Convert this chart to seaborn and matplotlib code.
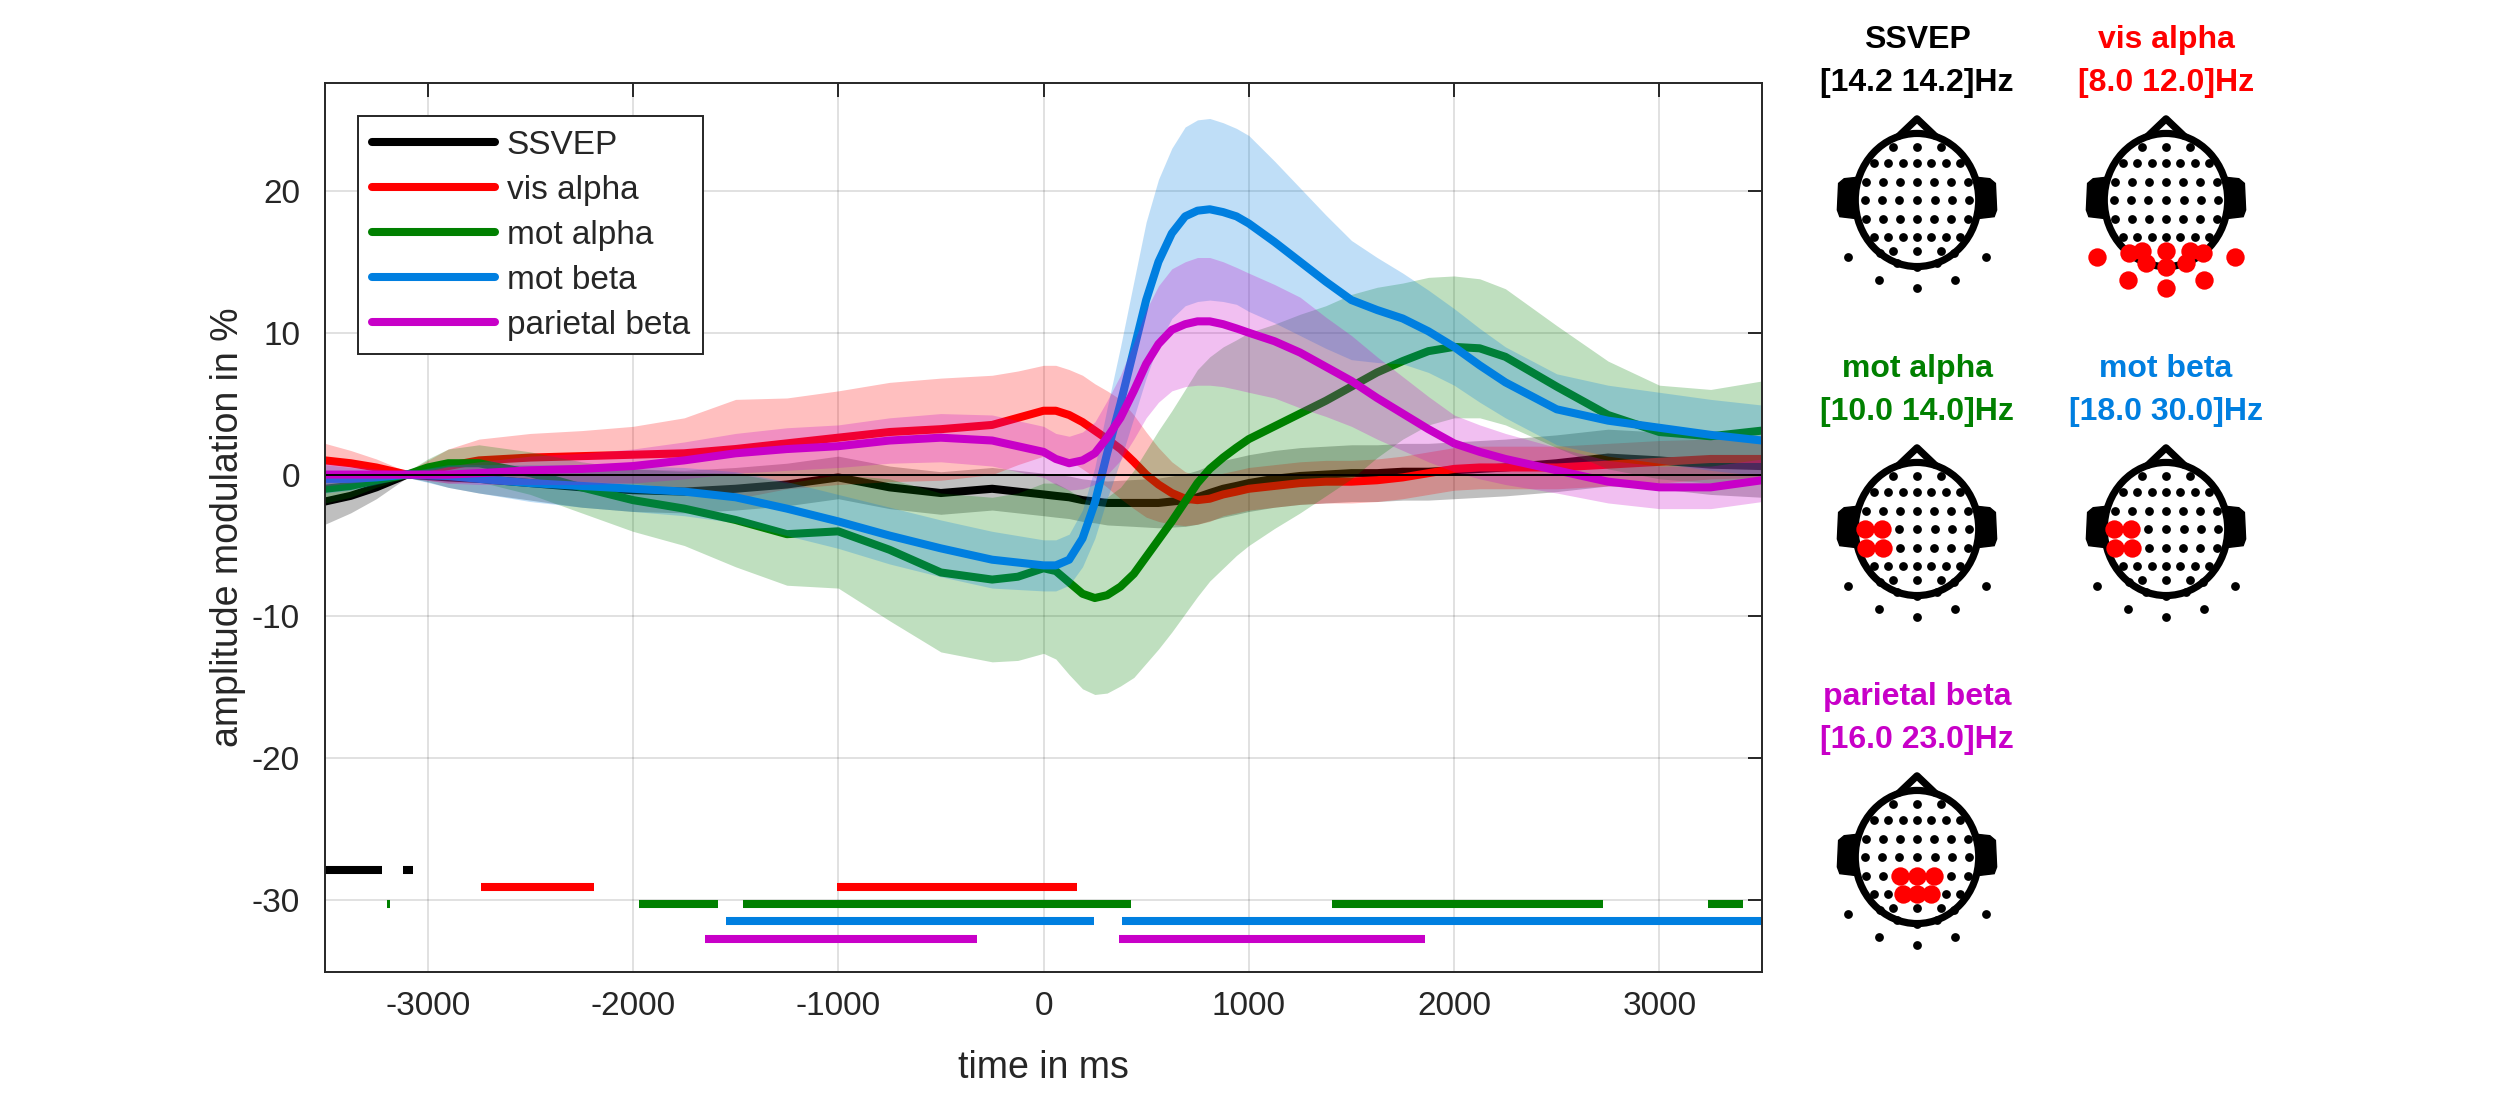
import numpy as np
import pandas as pd
import matplotlib
matplotlib.use("Agg")
import matplotlib.pyplot as plt
from matplotlib.patches import Circle, Polygon
import seaborn as sns

# ---- time course data (ms, % modulation) ----
time_ms = [-3500, -3375, -3250, -3100, -3000, -2900, -2750, -2500, -2250, -2000,
           -1750, -1500, -1250, -1000, -750, -500, -250, -125, 0, 60,
           125, 190, 250, 310, 375, 440, 500, 560, 625, 690,
           750, 810, 875, 940, 1000, 1125, 1250, 1375, 1500, 1625,
           1750, 1875, 2000, 2125, 2250, 2500, 2750, 3000, 3250, 3500]

ssvep_mean = [-1.9, -1.5, -0.9, 0.0, -0.1, -0.2, -0.3, -0.6, -0.9, -1.1,
              -1.2, -1.0, -0.7, -0.2, -0.9, -1.3, -1.0, -1.2, -1.4, -1.5,
              -1.6, -1.8, -1.9, -2.0, -2.0, -2.0, -2.0, -2.0, -1.9, -1.8,
              -1.6, -1.3, -1.0, -0.8, -0.6, -0.3, -0.1, 0.0, 0.1, 0.1,
              0.2, 0.2, 0.3, 0.4, 0.5, 0.8, 1.2, 1.0, 0.7, 0.6]
ssvep_err = [1.6, 1.2, 0.8, 0.2, 0.4, 0.7, 1.0, 1.2, 1.4, 1.5,
             1.5, 1.5, 1.5, 1.5, 1.5, 1.5, 1.5, 1.5, 1.5, 1.5,
             1.5, 1.5, 1.5, 1.55, 1.6, 1.65, 1.7, 1.75, 1.8, 1.85,
             1.9, 1.95, 2.0, 2.0, 2.0, 2.0, 2.0, 2.0, 2.0, 2.0,
             2.0, 2.0, 2.0, 2.0, 2.0, 2.0, 2.0, 2.0, 2.1, 2.2]

visalpha_mean = [1.0, 0.8, 0.5, 0.0, 0.3, 0.6, 1.0, 1.2, 1.3, 1.4,
                 1.5, 1.8, 2.2, 2.6, 3.0, 3.2, 3.5, 4.0, 4.5, 4.5,
                 4.2, 3.7, 3.1, 2.5, 1.8, 0.9, 0.0, -0.7, -1.3, -1.7,
                 -1.8, -1.7, -1.4, -1.2, -1.0, -0.8, -0.6, -0.5, -0.5, -0.4,
                 -0.2, 0.1, 0.4, 0.5, 0.5, 0.5, 0.7, 0.9, 1.1, 1.1]
visalpha_err = [1.2, 0.9, 0.6, 0.2, 0.7, 1.2, 1.5, 1.7, 1.8, 2.0,
                2.5, 3.5, 3.2, 3.3, 3.5, 3.6, 3.5, 3.3, 3.2, 3.2,
                3.2, 3.3, 3.3, 3.4, 3.5, 3.3, 3.0, 2.6, 2.2, 1.9,
                1.7, 1.6, 1.5, 1.5, 1.5, 1.5, 1.5, 1.5, 1.5, 1.5,
                1.5, 1.5, 1.5, 1.5, 1.5, 1.5, 1.5, 1.5, 1.4, 1.3]

motalpha_mean = [-1.0, -0.8, -0.4, 0.0, 0.5, 0.8, 0.8, 0.1, -0.9, -1.8,
                 -2.4, -3.2, -4.2, -4.0, -5.3, -6.9, -7.4, -7.2, -6.6, -6.8,
                 -7.6, -8.4, -8.7, -8.5, -7.9, -7.0, -5.8, -4.6, -3.3, -1.9,
                 -0.6, 0.4, 1.2, 1.9, 2.5, 3.4, 4.3, 5.2, 6.2, 7.2,
                 8.0, 8.7, 9.0, 8.9, 8.3, 6.2, 4.2, 3.0, 2.7, 3.1]
motalpha_err = [1.0, 0.8, 0.5, 0.2, 0.6, 1.0, 1.3, 1.5, 1.8, 2.2,
                2.6, 3.3, 3.6, 4.0, 5.0, 5.6, 5.8, 5.9, 6.0, 6.2,
                6.5, 6.7, 6.8, 6.9, 7.0, 7.3, 7.5, 7.7, 7.8, 7.9,
                8.0, 7.9, 7.8, 7.6, 7.5, 7.2, 7.0, 6.7, 6.5, 6.0,
                5.5, 5.2, 5.0, 4.9, 4.8, 4.3, 3.8, 3.3, 3.3, 3.5]

motbeta_mean = [-0.3, -0.3, -0.2, 0.0, -0.05, -0.1, -0.3, -0.6, -0.8, -1.0,
                -1.2, -1.6, -2.4, -3.3, -4.3, -5.2, -6.0, -6.2, -6.4, -6.4,
                -6.0, -4.5, -2.0, 1.5, 5.0, 8.8, 12.3, 15.0, 17.0, 18.2,
                18.6, 18.7, 18.5, 18.2, 17.7, 16.4, 15.0, 13.6, 12.3, 11.6,
                11.0, 10.1, 9.0, 7.7, 6.5, 4.6, 3.8, 3.3, 2.8, 2.4]
motbeta_err = [1.0, 0.8, 0.5, 0.2, 0.5, 0.8, 1.0, 1.3, 1.5, 1.6,
               1.7, 1.8, 1.9, 1.9, 2.0, 2.0, 2.0, 1.9, 1.8, 1.8,
               1.8, 2.0, 2.5, 3.2, 4.0, 4.8, 5.5, 5.8, 6.0, 6.3,
               6.4, 6.4, 6.3, 6.2, 6.2, 5.7, 5.2, 4.7, 4.2, 3.7,
               3.2, 2.9, 2.7, 2.6, 2.5, 2.5, 2.5, 2.5, 2.5, 2.5]

parbeta_mean = [0.0, 0.0, 0.0, 0.0, 0.0, 0.0, 0.1, 0.3, 0.4, 0.6,
                1.0, 1.5, 1.8, 2.0, 2.4, 2.6, 2.4, 2.0, 1.6, 1.1,
                0.8, 1.0, 1.5, 2.6, 4.0, 5.9, 7.8, 9.2, 10.2, 10.6,
                10.8, 10.8, 10.6, 10.3, 10.0, 9.4, 8.6, 7.6, 6.6, 5.4,
                4.3, 3.2, 2.2, 1.6, 1.1, 0.3, -0.5, -0.9, -0.9, -0.4]
parbeta_err = [0.8, 0.6, 0.4, 0.2, 0.4, 0.6, 0.8, 1.0, 1.1, 1.2,
               1.3, 1.4, 1.5, 1.5, 1.6, 1.7, 1.8, 1.8, 1.8, 1.8,
               1.9, 2.0, 2.2, 2.6, 3.0, 3.4, 3.8, 4.1, 4.3, 4.4,
               4.5, 4.5, 4.4, 4.3, 4.2, 4.0, 3.9, 3.5, 3.2, 2.9,
               2.6, 2.3, 2.0, 1.9, 1.8, 1.6, 1.5, 1.5, 1.5, 1.5]

band_names = ["SSVEP", "vis alpha", "mot alpha", "mot beta", "parietal beta"]
band_colors = ["#000000", "#ff0000", "#008000", "#007fe0", "#c800c8"]
freq_lo = [14.2, 8.0, 10.0, 18.0, 16.0]
freq_hi = [14.2, 12.0, 14.0, 30.0, 23.0]

# ---- significant time windows (start, end in ms) ----
sig_ssvep = [(-3500, -3223), (-3121, -3073)]
sig_visalpha = [(-2741, -2192), (-1004, 165)]
sig_motalpha = [(-3196, -3184), (-1972, -1585), (-1463, 424), (1407, 2724), (3238, 3408)]
sig_motbeta = [(-1548, 247), (383, 3500)]
sig_parbeta = [(-1650, -326), (366, 1858)]
sig_levels = [-27.9, -29.06, -30.27, -31.46, -32.7]

# ---- electrode montage (head radius = 1) ----
elec_x = [-0.39, 0.0, 0.39,
          -0.70, -0.47, -0.23, 0.0, 0.23, 0.47, 0.70,
          -0.83, -0.55, -0.28, 0.0, 0.28, 0.55, 0.83,
          -0.85, -0.57, -0.29, 0.0, 0.29, 0.57, 0.85,
          -0.83, -0.55, -0.28, 0.0, 0.28, 0.55, 0.83,
          -0.70, -0.47, -0.23, 0.0, 0.23, 0.47, 0.70,
          -0.39, 0.0, 0.39,
          -0.60, 0.60, -0.33, 0.33, 0.0,
          -1.11, 1.11, -0.61, 0.61, 0.0]
elec_y = [0.80, 0.80, 0.80,
          0.55, 0.55, 0.55, 0.55, 0.55, 0.55, 0.55,
          0.275, 0.275, 0.275, 0.275, 0.275, 0.275, 0.275,
          0.0, 0.0, 0.0, 0.0, 0.0, 0.0, 0.0,
          -0.285, -0.285, -0.285, -0.285, -0.285, -0.285, -0.285,
          -0.55, -0.55, -0.55, -0.55, -0.55, -0.55, -0.55,
          -0.76, -0.76, -0.76,
          -0.80, -0.80, -0.94, -0.94, -1.0,
          -0.85, -0.85, -1.2, -1.2, -1.325]
sel_ssvep = []
sel_visalpha = [38, 39, 40, 41, 42, 43, 44, 45, 46, 47, 48, 49, 50]
sel_motalpha = [17, 18, 24, 25]
sel_motbeta = [17, 18, 24, 25]
sel_parbeta = [26, 27, 28, 33, 34, 35]

means = [ssvep_mean, visalpha_mean, motalpha_mean, motbeta_mean, parbeta_mean]
errs = [ssvep_err, visalpha_err, motalpha_err, motbeta_err, parbeta_err]
sigs = [sig_ssvep, sig_visalpha, sig_motalpha, sig_motbeta, sig_parbeta]
sels = [sel_ssvep, sel_visalpha, sel_motalpha, sel_motbeta, sel_parbeta]

sns.set_style("white")
plt.rcParams['font.family'] = ['Liberation Sans', 'DejaVu Sans']
plt.rcParams['axes.unicode_minus'] = False

W, H = 2500, 1094
fig = plt.figure(figsize=(W / 100, H / 100), dpi=100)
ax = fig.add_axes([325 / W, 1 - 972 / H, (1762 - 325) / W, (972 - 83) / H])

t = np.array(time_ms)
for i, (name, col) in enumerate(zip(band_names, band_colors)):
    m = np.array(means[i])
    e = np.array(errs[i])
    ax.fill_between(t, m - e, m + e, color=col, alpha=0.25, lw=0, zorder=2 + 2 * i)
    df = pd.DataFrame({"time": t, "amp": m})
    sns.lineplot(data=df, x="time", y="amp", color=col, lw=5.8, label=name,
                 ax=ax, zorder=3 + 2 * i)

# significance bars
for i, col in enumerate(band_colors):
    for (s, e) in sigs[i]:
        ax.hlines(sig_levels[i], s, e, colors=col, lw=5.8, capstyle="butt", zorder=20)

ax.axhline(0, color="k", lw=1.4, zorder=15)

ax.set_xlim(-3500, 3500)
ax.set_ylim(-35.06, 27.6)
ax.set_xticks([-3000, -2000, -1000, 0, 1000, 2000, 3000])
ax.set_yticks([-30, -20, -10, 0, 10, 20])
ax.grid(True, color="k", alpha=0.13, lw=1.3)
ax.set_axisbelow(False)
for sp in ax.spines.values():
    sp.set_color("#262626")
    sp.set_linewidth(1.4)
    sp.set_zorder(30)
ax.tick_params(axis="both", direction="in", length=10, width=1.4, top=True, right=True,
               labelsize=24, colors="#262626")
ax.tick_params(axis="x", pad=14)
ax.tick_params(axis="y", pad=18)
ax.set_xlabel("time in ms", fontsize=27, color="#262626", labelpad=20)
ax.set_ylabel("amplitude modulation in %", fontsize=27, color="#262626", labelpad=4)

leg = ax.legend(loc="upper left", fontsize=24, frameon=True, fancybox=False,
                edgecolor="#262626", framealpha=1, handlelength=3.7, handletextpad=0.35,
                labelspacing=0.42, borderpad=0.4, borderaxespad=1.0)
leg.get_frame().set_linewidth(1.4)
leg.set_zorder(40)

# ---- topographies ----
head_centers = [(1917, 200), (2166, 200), (1917, 529), (2166, 529), (1917, 857)]
tw, th = 179, 193
ex = np.array(elec_x)
ey = np.array(elec_y)
for i, (cx, cy) in enumerate(head_centers):
    tax = fig.add_axes([(cx - tw / 2) / W, 1 - (cy + th / 2) / H, tw / W, th / H])
    tax.set_xlim(-1.45, 1.45)
    tax.set_ylim(-1.45, 1.45)
    tax.axis("off")
    tax.add_patch(Circle((0, 0), 1.0, fill=False, lw=5.2, ec="k", zorder=1))
    tax.plot([-0.3, 0.0, 0.3], [0.955, 1.22, 0.955], color="k", lw=5.2,
             solid_joinstyle="round", zorder=1)
    for sgn in (-1, 1):
        ear = [(sgn * 0.98, 0.34), (sgn * 1.18, 0.32), (sgn * 1.27, 0.25),
               (sgn * 1.29, -0.15), (sgn * 1.25, -0.25), (sgn * 0.98, -0.28)]
        tax.add_patch(Polygon(ear, closed=True, fc="k", ec="k", lw=1, zorder=1))
    sns.scatterplot(x=ex, y=ey, color="k", s=40, linewidth=0, ax=tax, zorder=3, clip_on=False)
    if sels[i]:
        idx = sels[i]
        sns.scatterplot(x=ex[idx], y=ey[idx], color="#ff0000", s=175, linewidth=0,
                        ax=tax, zorder=4, clip_on=False)
    tax.text(0.5, 0.5 + 160 / th, band_names[i], transform=tax.transAxes, ha="center",
             va="center", fontsize=23, fontweight="bold", color=band_colors[i])
    tax.text(0.5, 0.5 + 117 / th, "[%.1f %.1f]Hz" % (freq_lo[i], freq_hi[i]),
             transform=tax.transAxes, ha="center", va="center", fontsize=23,
             fontweight="bold", color=band_colors[i])

fig.savefig("out.png", dpi=100)
